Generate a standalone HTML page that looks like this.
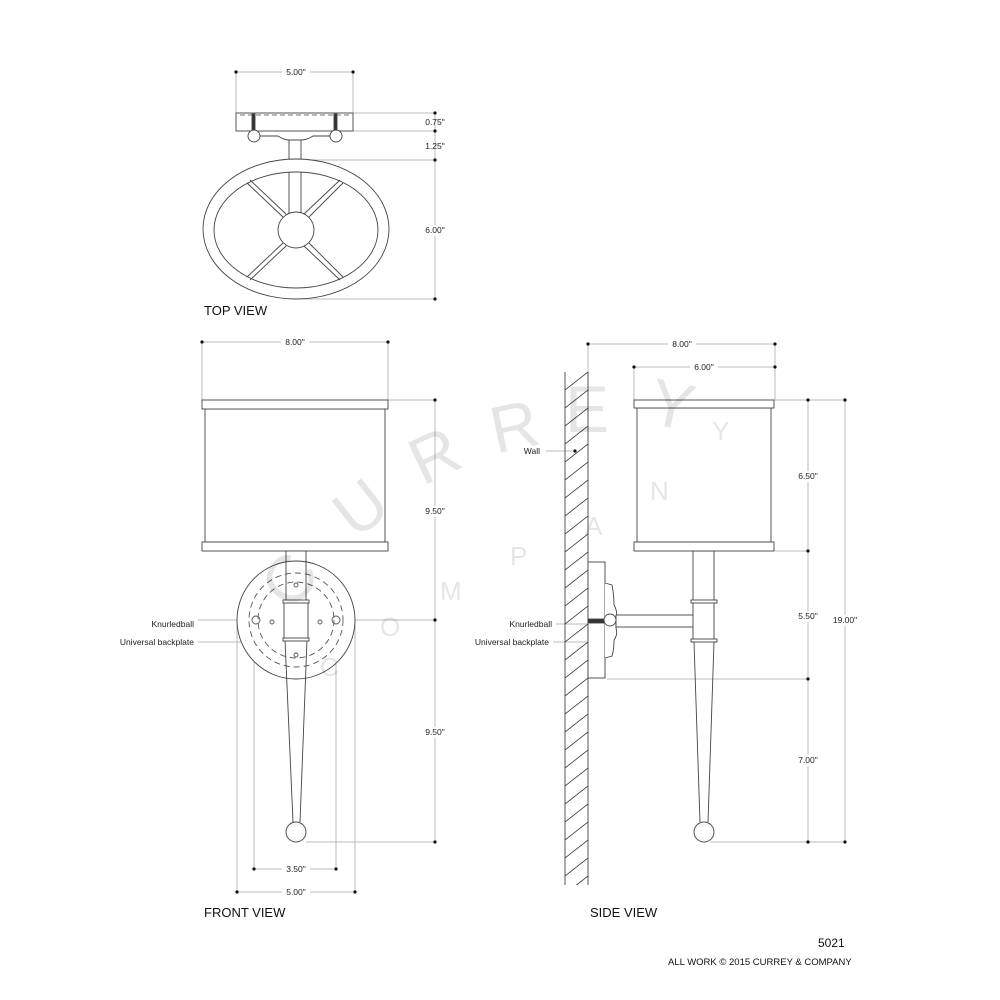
<!DOCTYPE html>
<html><head><meta charset="utf-8"><style>
html,body{margin:0;padding:0;background:#fff}
svg{display:block}
text{font-family:"Liberation Sans",sans-serif}
</style></head><body>
<svg width="1000" height="1000" viewBox="0 0 1000 1000" xmlns="http://www.w3.org/2000/svg">
<defs>
<pattern id="hatch" width="23" height="18" patternUnits="userSpaceOnUse" x="565" y="372">
<path d="M0,18 L23,0 M-23,18 L0,0 M23,18 L46,0" stroke="#333" stroke-width="0.8"/>
</pattern>
</defs>

<g stroke="#bbb" stroke-width="1" fill="none">
<line x1="236" y1="72" x2="353" y2="72"/><line x1="236" y1="72" x2="236" y2="113"/><line x1="353" y1="72" x2="353" y2="113"/>
<line x1="353" y1="113" x2="435" y2="113"/><line x1="353" y1="131" x2="435" y2="131"/>
<line x1="301" y1="160" x2="435" y2="160"/><line x1="300" y1="299" x2="435" y2="299"/>
<line x1="435" y1="113" x2="435" y2="299"/>
<line x1="202" y1="342" x2="388" y2="342"/><line x1="202" y1="342" x2="202" y2="400"/><line x1="388" y1="342" x2="388" y2="400"/>
<line x1="388" y1="400" x2="435" y2="400"/><line x1="345" y1="620" x2="435" y2="620"/><line x1="306" y1="842" x2="435" y2="842"/>
<line x1="435" y1="400" x2="435" y2="842"/>
<line x1="237" y1="620" x2="237" y2="892"/><line x1="254" y1="620" x2="254" y2="869"/><line x1="336" y1="620" x2="336" y2="869"/><line x1="355" y1="620" x2="355" y2="892"/>
<line x1="254" y1="869" x2="336" y2="869"/><line x1="237" y1="892" x2="355" y2="892"/>
<line x1="198" y1="620" x2="254" y2="620"/><line x1="198" y1="642" x2="255" y2="642"/>
<line x1="588" y1="344" x2="775" y2="344"/><line x1="588" y1="344" x2="588" y2="372"/><line x1="775" y1="344" x2="775" y2="400"/>
<line x1="634" y1="367" x2="775" y2="367"/><line x1="634" y1="367" x2="634" y2="400"/>
<line x1="775" y1="400" x2="845" y2="400"/><line x1="775" y1="551" x2="808" y2="551"/>
<line x1="607" y1="679" x2="808" y2="679"/><line x1="710" y1="842" x2="845" y2="842"/>
<line x1="808" y1="400" x2="808" y2="842"/><line x1="845" y1="400" x2="845" y2="842"/>
<line x1="546" y1="451" x2="575" y2="451"/>
<line x1="556" y1="624" x2="610" y2="624"/><line x1="553" y1="642" x2="590" y2="642"/>
</g>
<g fill="#111">
<circle cx="236" cy="72" r="1.6"/><circle cx="353" cy="72" r="1.6"/>
<circle cx="435" cy="113" r="1.6"/><circle cx="435" cy="131" r="1.6"/><circle cx="435" cy="160" r="1.6"/><circle cx="435" cy="299" r="1.6"/>
<circle cx="202" cy="342" r="1.6"/><circle cx="388" cy="342" r="1.6"/>
<circle cx="435" cy="400" r="1.6"/><circle cx="435" cy="620" r="1.6"/><circle cx="435" cy="842" r="1.6"/>
<circle cx="254" cy="869" r="1.6"/><circle cx="336" cy="869" r="1.6"/><circle cx="237" cy="892" r="1.6"/><circle cx="355" cy="892" r="1.6"/>
<circle cx="254" cy="624" r="1.6"/><circle cx="255" cy="642" r="1.6"/>
<circle cx="588" cy="344" r="1.6"/><circle cx="775" cy="344" r="1.6"/><circle cx="634" cy="367" r="1.6"/><circle cx="775" cy="367" r="1.6"/>
<circle cx="808" cy="400" r="1.6"/><circle cx="845" cy="400" r="1.6"/><circle cx="808" cy="551" r="1.6"/><circle cx="808" cy="679" r="1.6"/>
<circle cx="808" cy="842" r="1.6"/><circle cx="845" cy="842" r="1.6"/>
<circle cx="575" cy="451" r="1.6"/><circle cx="610" cy="624" r="1.6"/><circle cx="590" cy="642" r="1.6"/>
</g>

<g font-size="8.5" fill="#222" text-anchor="middle">
<rect x="282" y="66" width="28" height="11" fill="#fff"/><text x="296" y="75">5.00"</text>
<text x="435" y="125">0.75"</text><text x="435" y="149">1.25"</text>
<rect x="422" y="225" width="28" height="11" fill="#fff"/><text x="435" y="233">6.00"</text>
<rect x="281" y="336" width="28" height="11" fill="#fff"/><text x="295" y="345">8.00"</text>
<rect x="422" y="506" width="28" height="11" fill="#fff"/><text x="435" y="514">9.50"</text>
<rect x="422" y="727" width="28" height="11" fill="#fff"/><text x="435" y="735">9.50"</text>
<rect x="282" y="863" width="28" height="11" fill="#fff"/><text x="296" y="872">3.50"</text>
<rect x="282" y="886" width="28" height="11" fill="#fff"/><text x="296" y="895">5.00"</text>
<rect x="668" y="338" width="28" height="11" fill="#fff"/><text x="682" y="347">8.00"</text>
<rect x="690" y="361" width="28" height="11" fill="#fff"/><text x="704" y="370">6.00"</text>
<rect x="795" y="471" width="28" height="11" fill="#fff"/><text x="808" y="479">6.50"</text>
<rect x="795" y="611" width="28" height="11" fill="#fff"/><text x="808" y="619">5.50"</text>
<rect x="795" y="755" width="28" height="11" fill="#fff"/><text x="808" y="763">7.00"</text>
<rect x="830" y="615" width="32" height="11" fill="#fff"/><text x="845" y="623">19.00"</text>
</g>
<g font-size="8.5" fill="#222" text-anchor="end">
<text x="194" y="627">Knurledball</text><text x="194" y="645">Universal backplate</text>
<text x="540" y="454">Wall</text>
<text x="552" y="627">Knurledball</text><text x="549" y="645">Universal backplate</text>
</g>
<g font-size="13" fill="#111">
<text x="204" y="315">TOP VIEW</text><text x="204" y="917">FRONT VIEW</text><text x="590" y="917">SIDE VIEW</text>
</g>
<text x="818" y="947" font-size="12" fill="#111">5021</text>
<text x="668" y="965" font-size="9.5" fill="#111">ALL WORK © 2015 CURREY &amp; COMPANY</text>

<g stroke="#444" stroke-width="0.9" fill="#fff">
<rect x="236" y="113" width="117" height="18"/>
<line x1="240" y1="115" x2="349" y2="115" stroke-dasharray="5,3" stroke="#777"/>
<rect x="252" y="114" width="3" height="18" fill="#333"/><rect x="334" y="114" width="3" height="18" fill="#333"/>
<path d="M259,136 L278,136 Q284,140 289,140 L301,140 Q307,140 313,136 L332,136" fill="none"/>
<circle cx="254" cy="136" r="6"/><circle cx="336" cy="136" r="6"/>
<rect x="289" y="140" width="12" height="20"/>
<ellipse cx="296" cy="229" rx="93" ry="70"/>
<ellipse cx="296" cy="230" rx="82" ry="58"/>
<line x1="289" y1="172" x2="289" y2="215"/><line x1="301" y1="172" x2="301" y2="215"/>
<g fill="none">
<line x1="247" y1="183" x2="283" y2="217"/><line x1="250" y1="180" x2="286" y2="214"/>
<line x1="343" y1="183" x2="309" y2="217"/><line x1="340" y1="180" x2="304" y2="214"/>
<line x1="247" y1="277" x2="283" y2="243"/><line x1="250" y1="280" x2="286" y2="246"/>
<line x1="343" y1="277" x2="309" y2="243"/><line x1="340" y1="280" x2="304" y2="246"/>
</g>
<circle cx="296" cy="230" r="18"/>

<rect x="205" y="409" width="180" height="133"/>
<rect x="202" y="400" width="186" height="9"/>
<rect x="202" y="542" width="186" height="9"/>
<rect x="286" y="551" width="20" height="14"/>
<circle cx="296" cy="620" r="59"/>
<g fill="none" stroke="#555" stroke-dasharray="6,4">
<circle cx="296" cy="620" r="47"/><circle cx="296" cy="620" r="38"/>
</g>
<g fill="none" stroke="#555">
<circle cx="256" cy="620" r="4"/><circle cx="336" cy="620" r="4"/>
<circle cx="272" cy="622" r="2"/><circle cx="320" cy="622" r="2"/>
<circle cx="296" cy="585" r="2"/><circle cx="296" cy="655" r="2"/>
</g>
<path d="M286,560 L286,602 M306,560 L306,602" fill="none"/>
<path d="M285,640 L293,822 M307,640 L300,822" fill="none"/>
<rect x="284" y="602" width="24" height="38"/>
<rect x="283" y="600" width="26" height="3"/><rect x="283" y="638" width="26" height="3"/>
<circle cx="296" cy="832" r="10"/>

<rect x="565" y="372" width="23" height="513" fill="url(#hatch)" stroke="none"/>
<line x1="565" y1="372" x2="565" y2="885"/><line x1="588" y1="372" x2="588" y2="885"/>
<rect x="588" y="562" width="17" height="116"/>
<path d="M605,583 L612,585 Q614,595 614,605 Q618,612 616,618 L616,628 Q618,635 614,640 Q614,650 612,656 L605,658" fill="#fff"/>
<rect x="588" y="619" width="18" height="4" fill="#333"/>
<rect x="616" y="615" width="78" height="12"/>
<circle cx="610" cy="620" r="6"/>
<rect x="693" y="551" width="21" height="50"/>
<rect x="693" y="602" width="21" height="38"/>
<rect x="691" y="600" width="26" height="3"/><rect x="691" y="639" width="26" height="3"/>
<path d="M694,642 L700,822 M714,642 L708,822" fill="none"/>
<rect x="637" y="408" width="134" height="134"/>
<rect x="634" y="400" width="140" height="8"/>
<rect x="634" y="542" width="140" height="9"/>
<circle cx="704" cy="832" r="10"/>
</g>

<!-- watermark on top, faint -->
<g fill="#000" fill-opacity="0.1" font-family="Liberation Serif,serif" font-size="66">
<text x="262" y="600" transform="rotate(-55 290 575)">C</text>
<text x="335" y="530" transform="rotate(-38 360 505)">U</text>
<text x="410" y="480" transform="rotate(-25 430 455)">R</text>
<text x="490" y="450" transform="rotate(-12 510 425)">R</text>
<text x="565" y="432" transform="rotate(0 585 410)">E</text>
<text x="650" y="427" transform="rotate(12 670 405)">Y</text>
</g>
<g fill="#000" fill-opacity="0.1" font-family="Liberation Serif,serif" font-size="26">
<text x="320" y="676">C</text><text x="380" y="636">O</text><text x="440" y="600">M</text>
<text x="510" y="565">P</text><text x="585" y="535">A</text><text x="650" y="500">N</text><text x="712" y="440">Y</text>
</g>
</svg>
</body></html>
